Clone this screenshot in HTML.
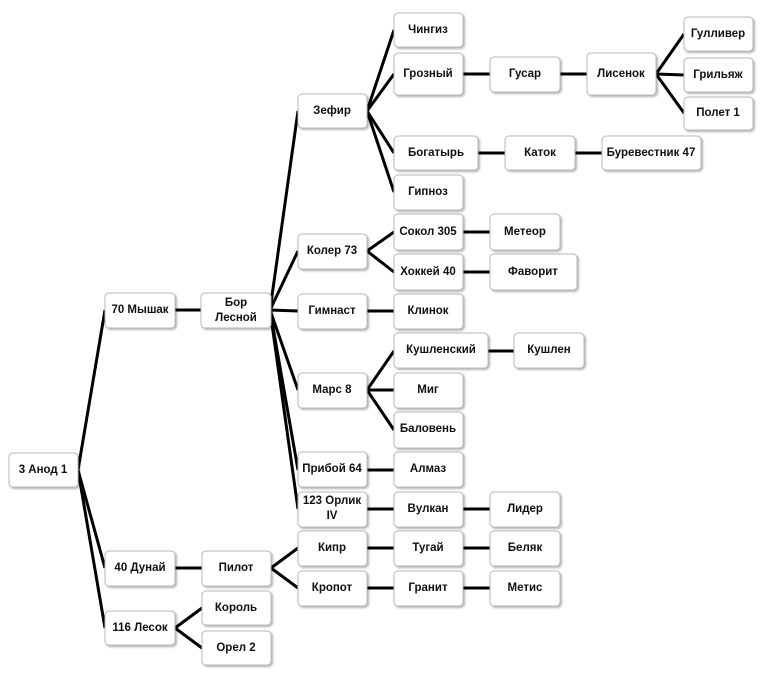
<!DOCTYPE html>
<html><head><meta charset="utf-8"><style>
html,body{margin:0;padding:0;background:#fff;}
svg{display:block;}
text{font-family:"Liberation Sans","DejaVu Sans",sans-serif;font-size:11.5px;font-weight:bold;fill:#111;text-anchor:middle;dominant-baseline:central;}
.b{fill:#fff;stroke:#b8b8b8;stroke-width:1;filter:url(#sh);}
line{stroke:#000;stroke-width:3;}
</style></head><body>
<svg width="762" height="678" viewBox="0 0 762 678">
<defs><filter id="sh" x="-10%" y="-10%" width="130%" height="140%"><feDropShadow dx="1.5" dy="1.5" stdDeviation="1" flood-color="#000" flood-opacity="0.3"/></filter></defs>
<g>
<line x1="78" y1="470" x2="105" y2="310"/>
<line x1="78" y1="470" x2="105" y2="568"/>
<line x1="78" y1="470" x2="105" y2="628"/>
<line x1="175" y1="310" x2="201" y2="310"/>
<line x1="175" y1="568" x2="202" y2="568"/>
<line x1="175" y1="628" x2="202" y2="608"/>
<line x1="175" y1="628" x2="202" y2="648"/>
<line x1="270" y1="310" x2="298" y2="111"/>
<line x1="270" y1="310" x2="298" y2="251"/>
<line x1="270" y1="310" x2="298" y2="311"/>
<line x1="270" y1="310" x2="298" y2="390"/>
<line x1="270" y1="310" x2="298" y2="470"/>
<line x1="270" y1="310" x2="298" y2="509"/>
<line x1="271" y1="568" x2="298" y2="548"/>
<line x1="271" y1="568" x2="298" y2="588"/>
<line x1="367" y1="111" x2="394" y2="30"/>
<line x1="367" y1="111" x2="394" y2="74"/>
<line x1="367" y1="111" x2="394" y2="153"/>
<line x1="367" y1="111" x2="394" y2="192"/>
<line x1="463" y1="74" x2="490" y2="74"/>
<line x1="560" y1="74" x2="587" y2="74"/>
<line x1="656" y1="74" x2="684" y2="34"/>
<line x1="656" y1="74" x2="684" y2="75"/>
<line x1="656" y1="74" x2="684" y2="113"/>
<line x1="478" y1="153" x2="505" y2="153"/>
<line x1="575" y1="153" x2="602" y2="153"/>
<line x1="367" y1="251" x2="394" y2="232"/>
<line x1="367" y1="251" x2="394" y2="272"/>
<line x1="463" y1="232" x2="490" y2="232"/>
<line x1="463" y1="272" x2="490" y2="272"/>
<line x1="367" y1="311" x2="394" y2="311"/>
<line x1="367" y1="390" x2="394" y2="351"/>
<line x1="367" y1="390" x2="394" y2="390"/>
<line x1="367" y1="390" x2="394" y2="430"/>
<line x1="488" y1="351" x2="514" y2="351"/>
<line x1="367" y1="470" x2="394" y2="470"/>
<line x1="367" y1="509" x2="394" y2="509"/>
<line x1="463" y1="509" x2="490" y2="509"/>
<line x1="367" y1="548" x2="394" y2="548"/>
<line x1="463" y1="548" x2="490" y2="548"/>
<line x1="367" y1="588" x2="394" y2="588"/>
<line x1="463" y1="588" x2="490" y2="588"/>
</g>
<g>
<rect class="b" x="9" y="453" width="69" height="34" rx="4"/><text x="43" y="470">3 Анод 1</text>
<rect class="b" x="105" y="293" width="70" height="35" rx="4"/><text x="140" y="310">70 Мышак</text>
<rect class="b" x="105" y="551" width="70" height="35" rx="4"/><text x="140" y="568">40 Дунай</text>
<rect class="b" x="105" y="611" width="70" height="34" rx="4"/><text x="140" y="628">116 Лесок</text>
<rect class="b" x="201" y="293" width="70" height="35" rx="4"/><text x="236" y="303">Бор</text><text x="236" y="318">Лесной</text>
<rect class="b" x="202" y="551" width="69" height="35" rx="4"/><text x="236" y="568">Пилот</text>
<rect class="b" x="202" y="591" width="69" height="34" rx="4"/><text x="236" y="608">Король</text>
<rect class="b" x="202" y="631" width="69" height="34" rx="4"/><text x="236" y="648">Орел 2</text>
<rect class="b" x="298" y="94" width="69" height="34" rx="4"/><text x="332" y="111">Зефир</text>
<rect class="b" x="298" y="234" width="69" height="35" rx="4"/><text x="332" y="251">Колер 73</text>
<rect class="b" x="298" y="294" width="69" height="35" rx="4"/><text x="332" y="311">Гимнаст</text>
<rect class="b" x="298" y="373" width="69" height="35" rx="4"/><text x="332" y="390">Марс 8</text>
<rect class="b" x="298" y="452" width="69" height="35" rx="4"/><text x="332" y="469">Прибой 64</text>
<rect class="b" x="298" y="492" width="69" height="35" rx="4"/><text x="332" y="501">123 Орлик</text><text x="332" y="516">IV</text>
<rect class="b" x="298" y="531" width="69" height="35" rx="4"/><text x="332" y="548">Кипр</text>
<rect class="b" x="298" y="571" width="69" height="35" rx="4"/><text x="332" y="588">Кропот</text>
<rect class="b" x="394" y="13" width="69" height="34" rx="4"/><text x="428" y="30">Чингиз</text>
<rect class="b" x="394" y="53" width="69" height="42" rx="4"/><text x="428" y="74">Грозный</text>
<rect class="b" x="394" y="136" width="84" height="34" rx="4"/><text x="436" y="153">Богатырь</text>
<rect class="b" x="394" y="175" width="69" height="35" rx="4"/><text x="428" y="192">Гипноз</text>
<rect class="b" x="394" y="214" width="69" height="36" rx="4"/><text x="428" y="232">Сокол 305</text>
<rect class="b" x="394" y="254" width="69" height="36" rx="4"/><text x="428" y="272">Хоккей 40</text>
<rect class="b" x="394" y="294" width="69" height="35" rx="4"/><text x="428" y="311">Клинок</text>
<rect class="b" x="394" y="333" width="94" height="35" rx="4"/><text x="441" y="350">Кушленский</text>
<rect class="b" x="394" y="373" width="69" height="35" rx="4"/><text x="428" y="390">Миг</text>
<rect class="b" x="394" y="412" width="69" height="36" rx="4"/><text x="428" y="429">Баловень</text>
<rect class="b" x="394" y="452" width="69" height="35" rx="4"/><text x="428" y="469">Алмаз</text>
<rect class="b" x="394" y="492" width="69" height="35" rx="4"/><text x="428" y="509">Вулкан</text>
<rect class="b" x="394" y="531" width="69" height="35" rx="4"/><text x="428" y="548">Тугай</text>
<rect class="b" x="394" y="571" width="69" height="35" rx="4"/><text x="428" y="588">Гранит</text>
<rect class="b" x="490" y="57" width="70" height="35" rx="4"/><text x="525" y="74">Гусар</text>
<rect class="b" x="505" y="136" width="70" height="34" rx="4"/><text x="540" y="153">Каток</text>
<rect class="b" x="490" y="214" width="70" height="36" rx="4"/><text x="525" y="232">Метеор</text>
<rect class="b" x="490" y="254" width="87" height="36" rx="4"/><text x="533" y="272">Фаворит</text>
<rect class="b" x="514" y="333" width="70" height="35" rx="4"/><text x="549" y="350">Кушлен</text>
<rect class="b" x="490" y="492" width="70" height="35" rx="4"/><text x="525" y="509">Лидер</text>
<rect class="b" x="490" y="531" width="70" height="35" rx="4"/><text x="525" y="548">Беляк</text>
<rect class="b" x="490" y="571" width="70" height="35" rx="4"/><text x="525" y="588">Метис</text>
<rect class="b" x="587" y="53" width="69" height="42" rx="4"/><text x="621" y="74">Лисенок</text>
<rect class="b" x="602" y="136" width="99" height="34" rx="4"/><text x="651" y="153">Буревестник 47</text>
<rect class="b" x="684" y="17" width="69" height="34" rx="4"/><text x="718" y="34">Гулливер</text>
<rect class="b" x="684" y="58" width="69" height="34" rx="4"/><text x="718" y="75">Грильяж</text>
<rect class="b" x="684" y="97" width="69" height="33" rx="4"/><text x="718" y="113">Полет 1</text>
</g>
</svg>
</body></html>
